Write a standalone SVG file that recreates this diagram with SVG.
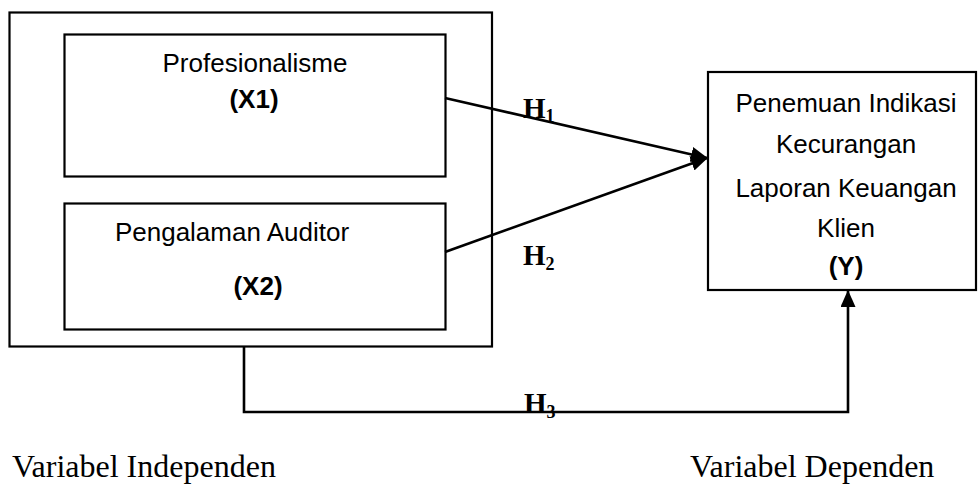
<svg xmlns="http://www.w3.org/2000/svg" width="979" height="493" viewBox="0 0 979 493">
<style>
.box{fill:#fff;stroke:#000;stroke-width:2.2}
.edge{fill:none;stroke:#000;stroke-width:2.6}
.t{font-family:"Liberation Sans",Arial,sans-serif;font-size:26px;fill:#000;text-anchor:middle}
.b{font-weight:bold}
.h{font-family:"Liberation Serif","Times New Roman",serif;font-weight:bold;font-size:29px;fill:#000}
.hs{font-size:18px}
.lbl{font-family:"Liberation Serif","Times New Roman",serif;font-size:32px;fill:#000}
</style>
<defs>
<marker id="ah" markerWidth="17" markerHeight="15" refX="16" refY="7.5" orient="auto" markerUnits="userSpaceOnUse">
<path d="M0,0 L17,7.5 L0,15 Z" fill="#000"/>
</marker>
</defs>
<g id="independen">
<rect class="box" x="9.5" y="12.5" width="482.5" height="334"/>
</g>
<g id="x1">
<rect class="box" x="64.5" y="34.5" width="381" height="142"/>
<text class="t" x="255" y="72">Profesionalisme</text>
<text class="t b" x="254" y="108">(X1)</text>
</g>
<g id="x2">
<rect class="box" x="64.5" y="203.5" width="381" height="126"/>
<text class="t" x="232" y="241">Pengalaman Auditor</text>
<text class="t b" x="258" y="295">(X2)</text>
</g>
<g id="y">
<rect class="box" x="708" y="72" width="268" height="218"/>
<text class="t" x="846" y="112">Penemuan Indikasi</text>
<text class="t" x="846" y="153">Kecurangan</text>
<text class="t" x="846" y="197">Laporan Keuangan</text>
<text class="t" x="846" y="237">Klien</text>
<text class="t b" x="846" y="275">(Y)</text>
</g>
<g id="connectors">
<line class="edge" x1="445" y1="98" x2="707" y2="158" marker-end="url(#ah)"/>
<line class="edge" x1="445" y1="252" x2="707" y2="158" marker-end="url(#ah)"/>
<polyline class="edge" points="244,347 244,412 848,412 848,291" marker-end="url(#ah)"/>
</g>
<g id="labels">
<text class="h" x="523" y="118">H<tspan class="hs" dy="4">1</tspan></text>
<text class="h" x="523" y="265">H<tspan class="hs" dy="5">2</tspan></text>
<text class="h" x="524" y="413">H<tspan class="hs" dy="5">3</tspan></text>
<text class="lbl" x="12" y="477">Variabel Independen</text>
<text class="lbl" x="690" y="477">Variabel Dependen</text>
</g>
</svg>
